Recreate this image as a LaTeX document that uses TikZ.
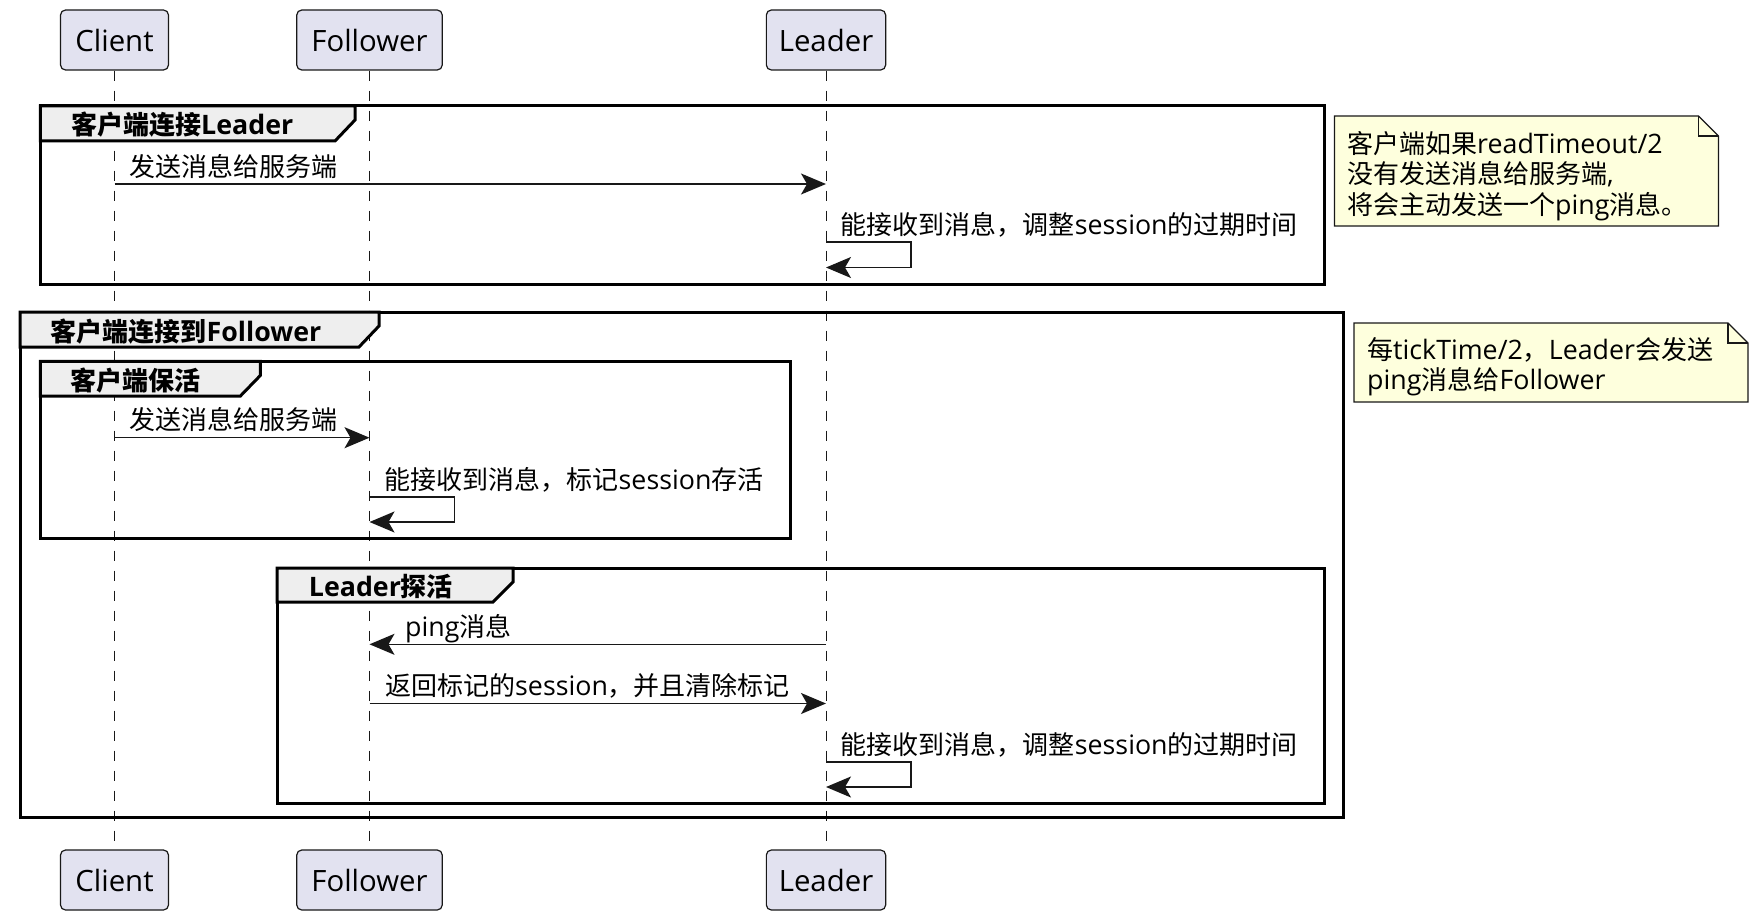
\documentclass[tikz,border=0pt]{standalone}
\usepackage{fontspec}
\setmainfont{Open Sans}[Scale=1.03]
\newfontfamily\cjkfont{Noto Sans CJK SC}
\usetikzlibrary{arrows.meta}
\definecolor{partfill}{HTML}{E2E2F0}
\definecolor{ink}{HTML}{181818}
\definecolor{tabfill}{HTML}{EEEEEE}
\definecolor{notefill}{HTML}{FEFFDD}
\newcommand\zh[1]{{\cjkfont#1}}
\newcommand\pname[1]{\raisebox{-2pt}{#1}}
\begin{document}
\begin{tikzpicture}[x=1pt,y=-1pt,
  participant/.style={draw=ink, fill=partfill, line width=1.2pt, rounded corners=5pt, inner sep=0pt, minimum height=60pt, font=\fontsize{28.5}{32}\selectfont},
  lifeline/.style={draw=ink, line width=1pt, dash pattern=on 10pt off 10pt},
  msg/.style={draw=ink, line width=1.5pt, -{Stealth[length=25pt,width=21pt,inset=6pt]}},
  msgtext/.style={anchor=base west, inner sep=0pt, font=\fontsize{26}{30}\selectfont},
  frameline/.style={draw=black, line width=3pt},
  tab/.style={draw=black, line width=3pt, fill=tabfill, line join=miter},
  tabtext/.style={anchor=base west, inner sep=0pt, font=\bfseries\fontsize{26}{30}\selectfont},
  note/.style={draw=ink, line width=1.2pt, fill=notefill},
  notetext/.style={anchor=base west, inner sep=0pt, font=\fontsize{26}{30}\selectfont}]
\useasboundingbox (0,0) rectangle (1760,920);

% participants
\node[participant, minimum width=108pt] (clientT) at (114.5,40) {\pname{Client}};
\node[participant, minimum width=145.5pt] (followerT) at (369.5,40) {\pname{Follower}};
\node[participant, minimum width=119.3pt] (leaderT) at (826,40) {\pname{Leader}};
\node[participant, minimum width=108pt] (clientB) at (114.5,880) {\pname{Client}};
\node[participant, minimum width=145.5pt] (followerB) at (369.5,880) {\pname{Follower}};
\node[participant, minimum width=119.3pt] (leaderB) at (826,880) {\pname{Leader}};

% lifelines
\draw[lifeline] (clientT.south) -- (clientB.north);
\draw[lifeline] (followerT.south) -- (followerB.north);
\draw[lifeline] (leaderT.south) -- (leaderB.north);

% frame 1
\draw[frameline] (40.4,106) rectangle (1324,284);
\draw[tab] (40.4,106) -- (355,106) -- (355,120) -- (335,141) -- (40.4,141) -- cycle;
\node[tabtext] (f1t) at (71,135) {\zh{客户端连接}Leader};

% frame 2
\draw[frameline] (20.2,312) rectangle (1343.5,817);
\draw[tab] (20.2,312) -- (379,312) -- (379,326) -- (359,347) -- (20.2,347) -- cycle;
\node[tabtext] (f2t) at (50.5,341) {\zh{客户端连接到}Follower};

% frame 3
\draw[frameline] (40.4,361.4) rectangle (790,538.8);
\draw[tab] (40.4,361.4) -- (260.4,361.4) -- (260.4,375.4) -- (240.4,396) -- (40.4,396) -- cycle;
\node[tabtext] (f3t) at (70.7,390) {\zh{客户端保活}};

% frame 4
\draw[frameline] (277.2,568) rectangle (1324.4,803.6);
\draw[tab] (277.2,568) -- (513,568) -- (513,582) -- (493,602) -- (277.2,602) -- cycle;
\node[tabtext] (f4t) at (308.7,596) {Leader\zh{探活}};

% messages in frame 1
\node[msgtext] (m1) at (129,176) {\zh{发送消息给服务端}};
\draw[msg] (clientT |- 0,184) -- (leaderT |- 0,184);
\node[msgtext] (s1) at (840.7,234) {\zh{能接收到消息，调整}session\zh{的过期时间}};
\draw[msg] (leaderT |- 0,242) -- (911,242) -- (911,267.5) -- (leaderT |- 0,267.5);

% messages in frame 3
\node[msgtext] (m2) at (129,429.7) {\zh{发送消息给服务端}};
\draw[msg] (clientT |- 0,437.7) -- (followerT |- 0,437.7);
\node[msgtext] (s2) at (384.5,489) {\zh{能接收到消息，标记}session\zh{存活}};
\draw[msg] (followerT |- 0,497) -- (454.6,497) -- (454.6,522) -- (followerT |- 0,522);

% messages in frame 4
\node[msgtext] (m3) at (405,636) {ping\zh{消息}};
\draw[msg] (leaderT |- 0,644.3) -- (followerT |- 0,644.3);
\node[msgtext] (m4) at (385,695.5) {\zh{返回标记的}session\zh{，并且清除标记}};
\draw[msg] (followerT |- 0,703.5) -- (leaderT |- 0,703.5);
\node[msgtext] (s3) at (840.7,754) {\zh{能接收到消息，调整}session\zh{的过期时间}};
\draw[msg] (leaderT |- 0,762) -- (911,762) -- (911,787) -- (leaderT |- 0,787);

% note 1
\draw[note] (1334.5,116) -- (1698.4,116) -- (1718.4,136) -- (1718.4,226) -- (1334.5,226) -- cycle;
\draw[draw=ink, line width=1.2pt] (1698.4,116) -- (1698.4,136) -- (1718.4,136);
\node[notetext] (n1a) at (1347,154) {\zh{客户端如果}readTimeout/2};
\node[notetext] (n1b) at (1347,184) {\zh{没有发送消息给服务端},};
\node[notetext] (n1c) at (1347,214) {\zh{将会主动发送一个}ping\zh{消息。}};

% note 2
\draw[note] (1354,323) -- (1728,323) -- (1748,343) -- (1748,402) -- (1354,402) -- cycle;
\draw[draw=ink, line width=1.2pt] (1728,323) -- (1728,343) -- (1748,343);
\node[notetext] (n2a) at (1367,359) {\zh{每}tickTime/2\zh{，}Leader\zh{会发送}};
\node[notetext] (n2b) at (1367,389) {ping\zh{消息给}Follower};
\end{tikzpicture}
\end{document}
